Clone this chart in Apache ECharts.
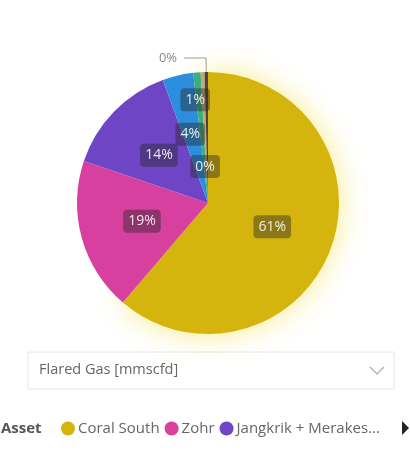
<!DOCTYPE html>
<html>
<head>
<meta charset="utf-8">
<script src="https://cdn.jsdelivr.net/npm/echarts@6/dist/echarts.min.js"></script>
<style>
  html, body { margin: 0; padding: 0; background: #fff; }
  #chart { width: 410px; height: 454px; }
</style>
</head>
<body>
<div id="chart"></div>
<script>
const assets = ['Coral South', 'Zohr', 'Jangkrik + Merakes East', 'OCTP', 'Perla', 'Baltim', 'Nooros'];
const flaredGas = [61.2, 18.9, 14.2, 3.8, 0.9, 0.48, 0.42];
const assetColors = ['#D6B40E', '#D7409F', '#6E45C4', '#2D8EDD', '#3AAE7C', '#C9A37C', '#4B4640'];
const legendShown = ['Coral South', 'Zohr', 'Jangkrik + Merakes East'];

const fontFamily = '"Segoe UI", "Open Sans", "Noto Sans", sans-serif';
const textGrey = '#666';

const chart = echarts.init(document.getElementById('chart'));

function labelFor(index) {
    // small slices get their labels nudged off the mid radius, as the original does
    if (index === 3) {
        return {offset: [-2, -2]};
    }
    if (index === 4) {
        return {offset: [-7, -35]};
    }
    if (index === 5) {
        return {offset: [0, 32]};
    }
    if (index === 6) {
        return {
            position: 'outside',
            color: '#888',
            backgroundColor: 'transparent',
            padding: [0, 2],
            fontSize: 13
        };
    }
    return {};
}

const pieData = assets.map(function (name, i) {
    const item = {
        name: name,
        value: flaredGas[i],
        itemStyle: {color: assetColors[i]},
        label: labelFor(i)
    };
    if (i === 0) {
        item.itemStyle.shadowBlur = 28;
        item.itemStyle.shadowColor = 'rgba(245, 225, 70, 0.65)';
    }
    if (i === 6) {
        item.labelLine = {show: true, length: 14, length2: 22, lineStyle: {color: '#999', width: 1}};
    }
    return item;
});

const option = {
    animation: false,
    legend: {
        data: legendShown,
        left: 56,
        top: 416,
        icon: 'circle',
        itemWidth: 14,
        itemHeight: 14,
        itemGap: 5,
        formatter: function (name) {
            return name.length > 18 ? name.slice(0, 18) + '...' : name;
        },
        textStyle: {
            color: textGrey,
            fontSize: 15,
            fontFamily: fontFamily,
            padding: [0, 0, 0, -2]
        }
    },
    graphic: [
        {
            type: 'text',
            left: 1,
            top: 421,
            style: {text: 'Asset', fill: '#555', font: 'bold 15px ' + fontFamily}
        },
        {
            type: 'polygon',
            shape: {points: [[402, 421], [409, 428], [402, 435]]},
            style: {fill: '#222'}
        },
        {
            type: 'rect',
            shape: {x: 28, y: 352, width: 366, height: 37},
            style: {fill: '#fff', stroke: '#e6e6e6', lineWidth: 1}
        },
        {
            type: 'text',
            left: 39,
            top: 362,
            style: {text: 'Flared Gas [mmscfd]', fill: textGrey, font: '14.5px ' + fontFamily}
        },
        {
            type: 'polyline',
            shape: {points: [[370, 367], [377, 374], [384, 367]]},
            style: {stroke: '#aaa', lineWidth: 1.2, fill: null}
        }
    ],
    series: [
        {
            name: 'Flared Gas [mmscfd]',
            type: 'pie',
            center: [208, 203],
            radius: [0, 131],
            startAngle: 90,
            clockwise: true,
            avoidLabelOverlap: false,
            labelLayout: {hideOverlap: false},
            labelLine: {show: false},
            label: {
                show: true,
                position: 'inside',
                formatter: function (p) {
                    return Math.round(p.percent) + '%';
                },
                color: 'rgba(255, 255, 255, 0.88)',
                fontSize: 14,
                fontFamily: fontFamily,
                backgroundColor: 'rgba(35, 35, 35, 0.42)',
                borderRadius: 4,
                padding: [5, 5, 4, 5]
            },
            emphasis: {disabled: true},
            data: pieData
        }
    ]
};

chart.setOption(option);

window.addEventListener('resize', function () {
    chart.resize();
});
</script>
</body>
</html>
